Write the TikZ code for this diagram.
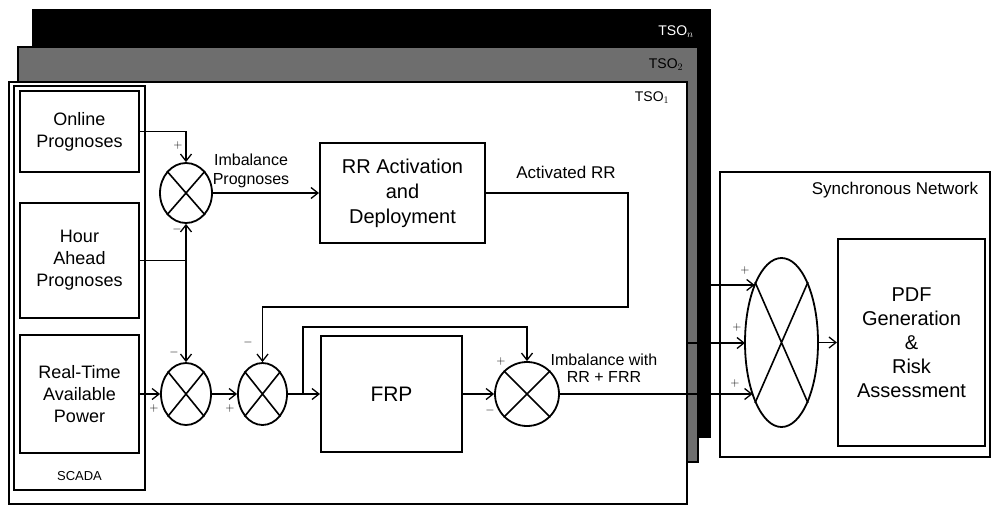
\documentclass[tikz,border=0pt]{standalone}
\usepackage{fontspec}
\setmainfont{Liberation Sans}
\usetikzlibrary{arrows.meta,shapes.geometric}
\definecolor{tsogrey}{HTML}{6E6E6E}
\tikzset{
  box/.style={draw, line width=2pt, inner sep=0pt, align=center},
  tsobox/.style={draw, line width=1.8pt, inner sep=0pt},
  sumnode/.style={draw, ellipse, line width=1.8pt, inner sep=0pt},
  conn/.style={line width=1.6pt},
  arr/.style={conn, -{Straight Barb[length=7pt,width=11pt,line width=1.3pt]}},
  sign/.style={font=\fontsize{13}{13}\selectfont, inner sep=0pt},
  lbl/.style={inner sep=0pt, align=center},
}
\begin{document}
\begin{tikzpicture}[x=1pt,y=-1pt]
\useasboundingbox (0,0) rectangle (992,506);
% TSO stacks
\node[tsobox, fill=black, minimum width=677pt, minimum height=427pt] (tson) at (371.5,223.5) {};
\node[tsobox, fill=tsogrey, minimum width=680pt, minimum height=415pt] (tsotwo) at (358,254.5) {};
\node[tsobox, fill=white, minimum width=678pt, minimum height=422pt] (tsoone) at (348,293) {};
\node[lbl, text=white, font=\fontsize{14}{14}\selectfont] (ltson) at (676,32) {TSO$_n$};
\node[lbl, font=\fontsize{14}{14}\selectfont] (ltsotwo) at (666,65) {TSO$_2$};
\node[lbl, font=\fontsize{14}{14}\selectfont] (ltsoone) at (652,98) {TSO$_1$};
% SCADA
\node[box, minimum width=131pt, minimum height=404pt] (scada) at (79.5,288) {};
\node[lbl, font=\fontsize{13}{13}\selectfont] (lscada) at (79.5,476) {SCADA};
\node[box, minimum width=119pt, minimum height=81pt, font=\fontsize{18}{22}\selectfont] (online) at (79.5,131.5) {Online\\Prognoses};
\node[box, minimum width=119pt, minimum height=115pt, font=\fontsize{18}{22}\selectfont] (hour) at (79.5,260.5) {Hour\\Ahead\\Prognoses};
\node[box, minimum width=119pt, minimum height=118pt, font=\fontsize{18}{22}\selectfont] (rt) at (79.5,394) {Real-Time\\Available\\Power};
% blocks
\node[box, minimum width=165pt, minimum height=100pt, font=\fontsize{20}{25}\selectfont] (rr) at (402.5,193) {RR Activation\\and\\Deployment};
\node[box, minimum width=141pt, minimum height=116pt, font=\fontsize{21}{25}\selectfont] (frp) at (391.5,394) {FRP};
% sums
\node[sumnode, minimum width=52pt, minimum height=60pt] (s1) at (186,193) {};
\node[sumnode, minimum width=50pt, minimum height=62pt] (s2) at (186,394) {};
\node[sumnode, minimum width=49pt, minimum height=62pt] (s3) at (262.5,394) {};
\node[sumnode, minimum width=64pt, minimum height=64pt] (s4) at (527,394) {};
\foreach \s in {s1,s2,s3,s4}{
  \draw[conn] (\s.north west) -- (\s.south east) (\s.north east) -- (\s.south west);
}
% synchronous network
\node[box, minimum width=270pt, minimum height=285pt] (sync) at (855,314.5) {};
\node[lbl, font=\fontsize{17}{17}\selectfont] (lsync) at (895,190) {Synchronous Network};
\node[box, minimum width=147pt, minimum height=207pt, font=\fontsize{20}{24}\selectfont] (pdf) at (911.5,342.5) {PDF\\Generation\\\&\\Risk\\Assessment};
\node[sumnode, minimum width=73pt, minimum height=169pt] (big) at (781.5,342.5) {};
\draw[conn] (big.north west) -- (big.south east) (big.north east) -- (big.south west);
% connectors
\coordinate (j1) at (186,260.5);
\draw[arr] (online.east) -| (s1.north);
\draw[conn] (hour.east) -- (j1);
\draw[arr] (j1) -- (s1.south);
\draw[arr] (j1) -- (s2.north);
\draw[arr] (rt.east) -- (s2.west);
\draw[arr] (s2.east) -- (s3.west);
\draw[arr] (s1.east) -- (s1.east -| rr.west);
\coordinate (arrturn) at (628,307);
\draw[arr] (rr.east) -| (arrturn) -| (s3.north);
\draw[arr] (s3.east) -- (frp.west);
\coordinate (br) at (303,394);
\coordinate (brtop) at (303,327);
\draw[arr] (br) -- (brtop) -| (s4.north);
\draw[arr] (frp.east) -- (s4.west);
\coordinate (bintop) at (754.7,285);
\coordinate (binmid) at (745,343);
\coordinate (binbot) at (752.6,394);
\coordinate (srctop) at (700,285);
\coordinate (srcmid) at (687,343);
\draw[arr] (srctop) -- (bintop);
\draw[arr] (srcmid) -- (binmid);
\draw[arr] (s4.east) -- (binbot);
\draw[arr] (big.east) -- (pdf.west);
% labels
\node[lbl, font=\fontsize{16}{19}\selectfont] (limb) at (251,171) {Imbalance\\Prognoses};
\node[lbl, font=\fontsize{17}{17}\selectfont] (lact) at (566,172) {Activated RR};
\node[lbl, font=\fontsize{16}{17}\selectfont] (limbrr) at (604,368) {Imbalance with\\RR + FRR};
% signs
\node[sign] (p1a) at (178,145) {$+$};
\node[sign] (p1b) at (177,229) {$-$};
\node[sign] (p2a) at (174,352) {$-$};
\node[sign] (p2b) at (154,408) {$+$};
\node[sign] (p3a) at (248,342) {$-$};
\node[sign] (p3b) at (230,408) {$+$};
\node[sign] (p4a) at (501,361) {$+$};
\node[sign] (p4b) at (490,410) {$-$};
\node[sign] (pba) at (745,270) {$+$};
\node[sign] (pbb) at (737,327) {$+$};
\node[sign] (pbc) at (735,383) {$+$};
\end{tikzpicture}
\end{document}
